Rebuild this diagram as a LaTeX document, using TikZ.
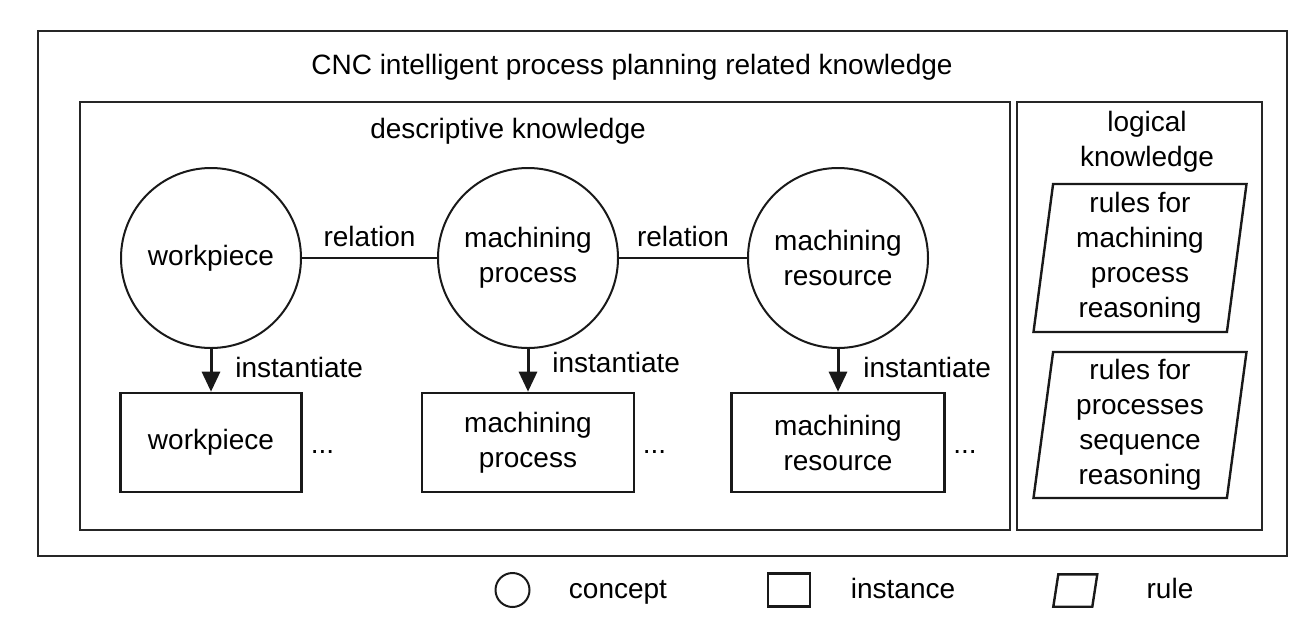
\documentclass[tikz,border=0pt]{standalone}
\usepackage{fontspec}
\setmainfont{Liberation Sans}
\usepackage{tikz}
\usetikzlibrary{shapes.geometric, arrows.meta, positioning}
\tikzstyle{arrow} = [-{Triangle[length=10pt, width=9pt]}, line width=1.5pt, draw=black!90]
\tikzset{
    frame/.style={draw=black!85, line width=1.3pt},
    concept/.style={circle, draw=black!90, line width=1pt, minimum size=90pt,
        inner sep=0pt, align=center},
    instance/.style={draw=black!90, line width=1.3pt, minimum height=49.5pt,
        inner sep=0pt, align=center},
    rulebox/.style={trapezium, trapezium stretches body, trapezium left angle=81.5,
        trapezium right angle=98.5, draw=black!90, line width=1.2pt,
        minimum width=106.5pt, inner sep=0pt, align=center},
    relation/.style={draw=black!90, line width=1.4pt},
    lbl/.style={inner sep=0pt},
}

\begin{document}
\begin{tikzpicture}[x=0.5pt, y=-0.5pt, font=\fontsize{14}{17.5}\selectfont]
    \useasboundingbox (0,0) rectangle (1312,633);

    % frames
    \draw[frame] (38,31) rectangle (1287,556);
    \draw[frame] (80,102) rectangle (1010,530);
    \draw[frame] (1017,102) rectangle (1262,530);
    \node[lbl] (title) at (632,67) {CNC intelligent process planning related knowledge};
    \node[lbl] (desclabel) at (508,131) {descriptive knowledge};
    \node[lbl, align=center] (loglabel) at (1147,142) {logical\\knowledge};

    % concepts
    \node[concept] (cwork) at (211,258) {workpiece};
    \node[concept] (cproc) at (528,258) {machining\\process};
    \node[concept] (cres) at (838,258) {machining\\resource};
    \draw[relation] (cwork) -- node[lbl, above=5pt] {relation} (cproc);
    \draw[relation] (cproc) -- node[lbl, above=5pt] {relation} (cres);

    % instances
    \node[instance, minimum width=90.5pt] (iwork) at (211,442.5) {workpiece};
    \node[instance, minimum width=106pt] (iproc) at (528,442.5) {machining\\process};
    \node[instance, minimum width=106.5pt] (ires) at (838,442.5) {machining\\resource};
    \draw[arrow] (cwork) -- (iwork);
    \draw[arrow] (cproc) -- (iproc);
    \draw[arrow] (cres) -- (ires);
    \node[lbl, anchor=base west] (inst1) at (235,377) {instantiate};
    \node[lbl, anchor=base west] (inst2) at (552,372) {instantiate};
    \node[lbl, anchor=base west] (inst3) at (863,377) {instantiate};
    \node[lbl, anchor=base] (more1) at (322.5,453) {...};
    \node[lbl, anchor=base] (more2) at (654.5,453) {...};
    \node[lbl, anchor=base] (more3) at (965,453) {...};

    % rules
    \node[rulebox, minimum height=74pt] (rproc) at (1140,258)
        {rules for\\machining\\process\\reasoning};
    \node[rulebox, minimum height=73pt] (rseq) at (1140,425)
        {rules for\\processes\\sequence\\reasoning};

    % legend
    \node[concept, minimum size=17pt] (kconcept) at (512.5,590) {};
    \node[lbl, anchor=base] (tconcept) at (618,598.5) {concept};
    \node[instance, minimum width=21pt, minimum height=16.5pt] (kinstance) at (789,590) {};
    \node[lbl, anchor=base] (tinstance) at (903,598.5) {instance};
    \coordinate (krule) at (1075.3,590.5);
    \draw[draw=black!90, line width=1.2pt] (krule) ++(-22,16.2) -- ++(39,0)
        -- ++(5,-32.4) -- ++(-39,0) -- cycle;
    \node[lbl, anchor=base] (trule) at (1170,598.5) {rule};
\end{tikzpicture}
\end{document}
